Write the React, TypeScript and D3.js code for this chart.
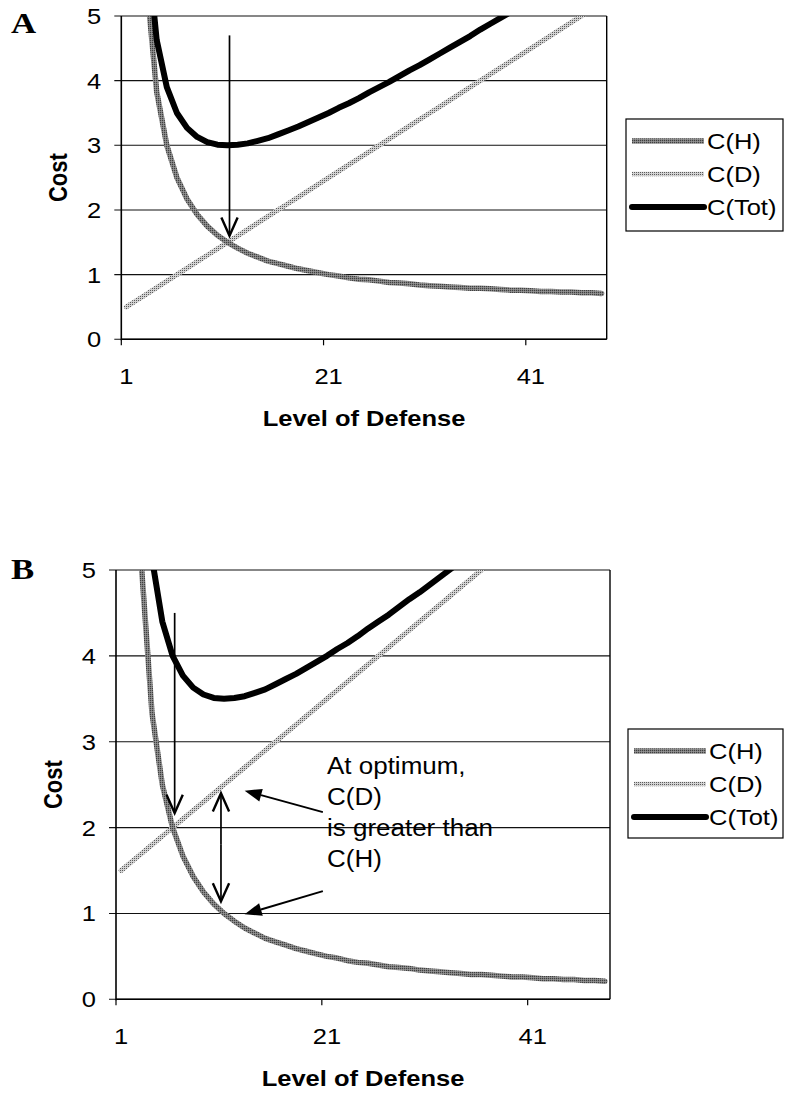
import React from "react";
import * as d3 from "d3";

// ---------- data ----------
const categories = [
  1, 2, 3, 4, 5, 6, 7, 8, 9, 10, 11, 12, 13, 14, 15, 16, 17, 18, 19, 20, 21, 22, 23, 24,
  25, 26, 27, 28, 29, 30, 31, 32, 33, 34, 35, 36, 37, 38, 39, 40, 41, 42, 43, 44, 45, 46, 47, 48,
];
const xTickLabels = [1, 21, 41];
const yTicks = [0, 1, 2, 3, 4, 5];
const seriesNames = ["C(H)", "C(D)", "C(Tot)"];

// Panel A
const costHA = [
  null, 10.5, 5.5, 3.83, 3.0, 2.5, 2.17, 1.93, 1.75, 1.61, 1.5, 1.41, 1.33, 1.27, 1.21, 1.17,
  1.13, 1.09, 1.06, 1.03, 1.0, 0.98, 0.95, 0.93, 0.92, 0.9, 0.88, 0.87, 0.86, 0.84, 0.83, 0.82,
  0.81, 0.8, 0.79, 0.79, 0.78, 0.77, 0.76, 0.76, 0.75, 0.74, 0.74, 0.73, 0.73, 0.72, 0.72, 0.71,
];
const costDA = [
  0.5, 0.6, 0.7, 0.8, 0.9, 1.0, 1.1, 1.2, 1.3, 1.4, 1.5, 1.6, 1.7, 1.8, 1.9, 2.0,
  2.1, 2.2, 2.3, 2.4, 2.5, 2.6, 2.7, 2.8, 2.9, 3.0, 3.1, 3.2, 3.3, 3.4, 3.5, 3.6,
  3.7, 3.8, 3.9, 4.0, 4.1, 4.2, 4.3, 4.4, 4.5, 4.6, 4.7, 4.8, 4.9, 5.0, 5.1, 5.2,
];
const costTotA = [
  null, 11.1, 6.2, 4.63, 3.9, 3.5, 3.27, 3.13, 3.05, 3.01, 3.0, 3.01, 3.03, 3.07, 3.11, 3.17,
  3.23, 3.29, 3.36, 3.43, 3.5, 3.58, 3.65, 3.73, 3.82, 3.9, 3.98, 4.07, 4.16, 4.24, 4.33, 4.42,
  4.51, 4.6, 4.69, 4.79, 4.88, 4.97, 5.06, 5.16, 5.25, 5.34, 5.44, 5.53, 5.63, 5.72, 5.82, 5.91,
];

// Panel B
const costHB = [
  null, 10, 5, 3.33, 2.5, 2.0, 1.67, 1.43, 1.25, 1.11, 1.0, 0.91, 0.83, 0.77, 0.71, 0.67,
  0.63, 0.59, 0.56, 0.53, 0.5, 0.48, 0.45, 0.43, 0.42, 0.4, 0.38, 0.37, 0.36, 0.34, 0.33, 0.32,
  0.31, 0.3, 0.29, 0.29, 0.28, 0.27, 0.26, 0.26, 0.25, 0.24, 0.24, 0.23, 0.23, 0.22, 0.22, 0.21,
];
const costDB = [
  1.5, 1.6, 1.7, 1.8, 1.9, 2.0, 2.1, 2.2, 2.3, 2.4, 2.5, 2.6, 2.7, 2.8, 2.9, 3.0,
  3.1, 3.2, 3.3, 3.4, 3.5, 3.6, 3.7, 3.8, 3.9, 4.0, 4.1, 4.2, 4.3, 4.4, 4.5, 4.6,
  4.7, 4.8, 4.9, 5.0, 5.1, 5.2, 5.3, 5.4, 5.5, 5.6, 5.7, 5.8, 5.9, 6.0, 6.1, 6.2,
];
const costTotB = [
  null, 11.6, 6.7, 5.13, 4.4, 4.0, 3.77, 3.63, 3.55, 3.51, 3.5, 3.51, 3.53, 3.57, 3.61, 3.67,
  3.73, 3.79, 3.86, 3.93, 4.0, 4.08, 4.15, 4.23, 4.32, 4.4, 4.48, 4.57, 4.66, 4.74, 4.83, 4.92,
  5.01, 5.1, 5.19, 5.29, 5.38, 5.47, 5.56, 5.66, 5.75, 5.84, 5.94, 6.03, 6.13, 6.22, 6.32, 6.41,
];

const noteLines = ["At optimum,", "C(D)", "is greater than", "C(H)"];

// ---------- styles ----------
const SANS = "'Liberation Sans', Arial, sans-serif";
const SERIF = "'Liberation Serif', 'Times New Roman', serif";
const SX = 1.16;

const lineStyle: Record<string, { stroke: string; width: number; legendWidth: number }> = {
  "C(H)": { stroke: "url(#halftone)", width: 5.5, legendWidth: 5.5 },
  "C(D)": { stroke: "url(#stipple)", width: 5, legendWidth: 4.5 },
  "C(Tot)": { stroke: "#000", width: 6, legendWidth: 6 },
};

function T({ x, y, children, size = 22, weight = "normal", anchor = "start", sx = SX, rotate = 0, family = SANS, dy = 0 }: any) {
  return (
    <g transform={`translate(${x},${y}) scale(${sx},1)${rotate ? ` rotate(${rotate})` : ""}`}>
      <text fontFamily={family} fontSize={size} fontWeight={weight} textAnchor={anchor} dy={dy} fill="#000">
        {children}
      </text>
    </g>
  );
}

function OpenArrow({ x1, y1, x2, y2, len = 20, ang = 24 }: any) {
  const a = Math.atan2(y2 - y1, x2 - x1);
  const r = (ang * Math.PI) / 180;
  const w1 = [x2 - len * Math.cos(a - r), y2 - len * Math.sin(a - r)];
  const w2 = [x2 - len * Math.cos(a + r), y2 - len * Math.sin(a + r)];
  return (
    <g stroke="#000" strokeWidth={1.7} fill="none">
      <line x1={x1} y1={y1} x2={x2} y2={y2} />
      <polyline points={`${w1[0]},${w1[1]} ${x2},${y2} ${w2[0]},${w2[1]}`} strokeWidth={2.4} />
    </g>
  );
}

function FilledArrow({ x1, y1, x2, y2, len = 17, half = 6.5 }: any) {
  const a = Math.atan2(y2 - y1, x2 - x1);
  const bx = x2 - len * Math.cos(a);
  const by = y2 - len * Math.sin(a);
  const px = -Math.sin(a) * half;
  const py = Math.cos(a) * half;
  return (
    <g>
      <line x1={x1} y1={y1} x2={bx} y2={by} stroke="#000" strokeWidth={1.9} />
      <polygon points={`${x2},${y2} ${bx + px},${by + py} ${bx - px},${by - py}`} fill="#000" />
    </g>
  );
}

function Panel({ id, letter, letterY, left, right, top, bottom, series, legend, arrows }: any) {
  const x = d3.scaleBand<number>().domain(categories).range([left, right]).padding(0);
  const bw = x.bandwidth();
  const center = (c: number) => (x(c) as number) + bw / 2;
  const pos = (v: number) => left + (v - 0.5) * bw;
  const y = d3.scaleLinear().domain([0, 5]).range([bottom, top]);

  const lineGen = d3
    .line<[number, number | null]>()
    .defined((p) => p[1] != null)
    .x((p) => center(p[0]))
    .y((p) => y(p[1] as number));

  const order = ["C(D)", "C(H)", "C(Tot)"];

  return (
    <g>
      <defs>
        <clipPath id={`clip-${id}`}>
          <rect x={left} y={top} width={right - left} height={bottom - top} />
        </clipPath>
      </defs>
      {/* panel letter */}
      <T x={11} y={letterY} size={29} weight="bold" family={SERIF} sx={1.2}>
        {letter}
      </T>
      {/* gridlines + y ticks */}
      {yTicks.map((t) => (
        <line key={`g${t}`} x1={left - 7} x2={right} y1={y(t)} y2={y(t)} stroke="#111" strokeWidth={1.1} />
      ))}
      {yTicks.map((t) => (
        <T key={`yl${t}`} x={left - 20} y={y(t)} anchor="end" dy="0.36em">
          {t}
        </T>
      ))}
      {/* plot frame */}
      <line x1={right} x2={right} y1={top} y2={bottom} stroke="#000" strokeWidth={1.4} />
      <line x1={left} x2={left} y1={top} y2={bottom + 1} stroke="#000" strokeWidth={1.6} />
      <line x1={left} x2={right} y1={bottom} y2={bottom} stroke="#000" strokeWidth={1.6} />
      {xTickLabels.map((c) => (
        <line key={`xt${c}`} x1={x(c) as number} x2={x(c) as number} y1={bottom} y2={bottom + 6} stroke="#000" strokeWidth={1.2} />
      ))}
      {xTickLabels.map((c) => (
        <T key={`xl${c}`} x={center(c)} y={bottom + 45} anchor="middle">
          {c}
        </T>
      ))}
      {/* axis titles */}
      <T x={(left + right) / 2} y={bottom + 87} anchor="middle" weight="bold">
        Level of Defense
      </T>
      <T x={left - 54} y={(top + bottom) / 2} anchor="middle" weight="bold" rotate={-90}>
        Cost
      </T>
      {/* series */}
      <g clipPath={`url(#clip-${id})`}>
        {order.map((name) => {
          const vals: (number | null)[] = series[name];
          const pts = categories.map((c, i) => [c, vals[i]] as [number, number | null]);
          const st = lineStyle[name];
          return (
            <path
              key={name}
              d={lineGen(pts) || ""}
              fill="none"
              stroke={st.stroke}
              strokeWidth={st.width}
              strokeLinejoin="round"
              strokeLinecap="round"
            />
          );
        })}
      </g>
      {/* annotations */}
      {arrows({ pos, y, center })}
      {/* legend */}
      <rect x={legend.x} y={legend.y} width={legend.w} height={legend.h} fill="#fff" stroke="#000" strokeWidth={1.2} />
      {seriesNames.map((name, i) => {
        const ry = legend.rows[i];
        const st = lineStyle[name];
        return (
          <g key={name}>
            <line
              x1={legend.x + 6}
              x2={legend.x + 78}
              y1={ry}
              y2={ry}
              stroke={st.stroke}
              strokeWidth={st.legendWidth}
              strokeLinecap={name === "C(Tot)" ? "round" : "butt"}
            />
            <T x={legend.x + 81} y={ry} dy="0.36em">
              {name}
            </T>
          </g>
        );
      })}
    </g>
  );
}

export default function App() {
  return (
    <svg
      width={785}
      height={1093}
      viewBox="0 0 785 1093"
      style={{ position: "absolute", left: 0, top: 0, background: "#fff" }}
    >
      <defs>
        <pattern id="stipple" width={2} height={2} patternUnits="userSpaceOnUse">
          <rect width={2} height={2} fill="#d2d2d2" />
          <rect width={1} height={1} fill="#5a5a5a" />
        </pattern>
        <pattern id="halftone" width={2} height={2} patternUnits="userSpaceOnUse">
          <rect width={2} height={2} fill="#808080" />
          <rect width={1} height={1} fill="#404040" />
          <rect x={1} y={1} width={1} height={1} fill="#949494" />
        </pattern>
      </defs>
      <rect width={785} height={1093} fill="#fff" />
      <Panel
        id="A"
        letter="A"
        letterY={33}
        left={121.3}
        right={606.7}
        top={16}
        bottom={339.3}
        series={{ "C(H)": costHA, "C(D)": costDA, "C(Tot)": costTotA }}
        legend={{ x: 626, y: 119, w: 157, h: 112, rows: [141, 174, 207] }}
        arrows={({ pos, y }: any) => <OpenArrow x1={pos(11.2)} y1={y(4.7)} x2={pos(11.2)} y2={y(1.6)} />}
      />
      <Panel
        id="B"
        letter="B"
        letterY={579}
        left={116}
        right={610}
        top={570}
        bottom={999.3}
        series={{ "C(H)": costHB, "C(D)": costDB, "C(Tot)": costTotB }}
        legend={{ x: 628, y: 729, w: 155, h: 109, rows: [751, 784, 817] }}
        arrows={({ pos, y }: any) => (
          <g>
            <OpenArrow x1={pos(6.2)} y1={y(4.5)} x2={pos(6.2)} y2={y(2.17)} />
            <OpenArrow x1={pos(10.7)} y1={y(1.8)} x2={pos(10.7)} y2={y(2.4)} />
            <OpenArrow x1={pos(10.7)} y1={y(1.8)} x2={pos(10.7)} y2={y(1.14)} />
            <FilledArrow x1={pos(20.6)} y1={y(2.18)} x2={pos(13.0)} y2={y(2.43)} />
            <FilledArrow x1={pos(20.6)} y1={y(1.26)} x2={pos(13.0)} y2={y(0.99)} />
            {noteLines.map((s, i) => (
              <T key={s} x={pos(21.0)} y={y(2.62) + i * 31} size={23} sx={1.13}>
                {s}
              </T>
            ))}
          </g>
        )}
      />
    </svg>
  );
}
